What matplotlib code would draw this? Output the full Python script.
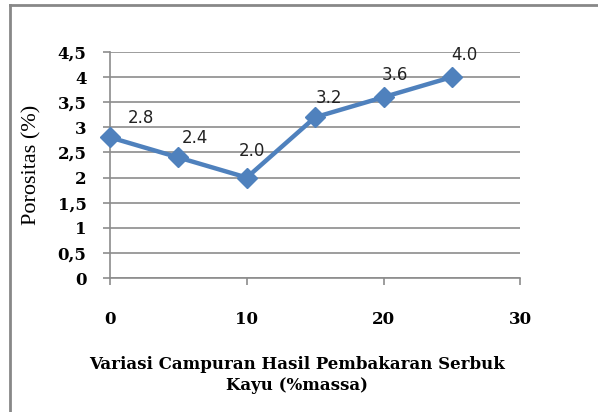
import matplotlib.pyplot as plt
from matplotlib.lines import Line2D
from matplotlib.ticker import FuncFormatter

# data
campuran = [0, 5, 10, 15, 20, 25]
porositas = [2.8, 2.4, 2.0, 3.2, 3.6, 4.0]
label_teks = ['2.8', '2.4', '2.0', '3.2', '3.6', '4.0']

# label offsets in points (style only)
offsets = [(22, 14), (12, 14), (4, 19), (10, 14), (8, 16), (9, 16)]

blue = '#4F81BD'
grid_c = '#8C8C8C'


def main():
    fig = plt.figure(figsize=(5.98, 4.12), dpi=100)
    ax = fig.add_axes([0.184, 0.325, 0.686, 0.549])

    ax.plot(campuran, porositas, color=blue, lw=3.2, marker='D', ms=10,
            mfc=blue, mec=blue, zorder=3, clip_on=False)

    for x, y, t, (dx, dy) in zip(campuran, porositas, label_teks, offsets):
        ax.annotate(t, (x, y), xytext=(dx, dy), textcoords='offset points',
                    ha='center', va='center', fontsize=12,
                    family='DejaVu Sans', color='#222222')

    ax.set_xlim(0, 30)
    ax.set_ylim(0, 4.5)
    ax.set_xticks([0, 10, 20, 30])
    ax.set_yticks([i * 0.5 for i in range(10)])
    ax.yaxis.set_major_formatter(FuncFormatter(
        lambda v, p: ('%g' % v).replace('.', ',')))

    ax.grid(axis='y', color=grid_c, lw=1.2)
    ax.set_axisbelow(True)
    for s in ['top', 'right']:
        ax.spines[s].set_visible(False)
    for s in ['left', 'bottom']:
        ax.spines[s].set_color(grid_c)
        ax.spines[s].set_linewidth(1.2)
    ax.tick_params(axis='both', color=grid_c, length=5, width=1.2,
                   labelsize=12)
    ax.tick_params(axis='x', pad=19)
    ax.tick_params(axis='y', pad=12)
    for lab in ax.get_xticklabels() + ax.get_yticklabels():
        lab.set_family('DejaVu Serif')
        lab.set_fontweight('bold')

    ax.set_ylabel('Porositas (%)', family='Liberation Serif', fontsize=16)
    ax.yaxis.set_label_coords(-0.166, 0.5)
    ax.set_xlabel('Variasi Campuran Hasil Pembakaran Serbuk\nKayu (%massa)',
                  family='DejaVu Serif', fontsize=12, fontweight='bold',
                  linespacing=1.3)
    ax.xaxis.set_label_coords(0.456, -0.345)

    # chart frame (only left and top edges visible)
    fig.add_artist(Line2D([10 / 598, 10 / 598], [0, 1 - 5 / 412],
                          transform=fig.transFigure, color='#888888', lw=2))
    fig.add_artist(Line2D([10 / 598, 1], [1 - 5 / 412, 1 - 5 / 412],
                          transform=fig.transFigure, color='#888888', lw=2))

    fig.savefig('out.png', dpi=100)


if __name__ == '__main__':
    main()
